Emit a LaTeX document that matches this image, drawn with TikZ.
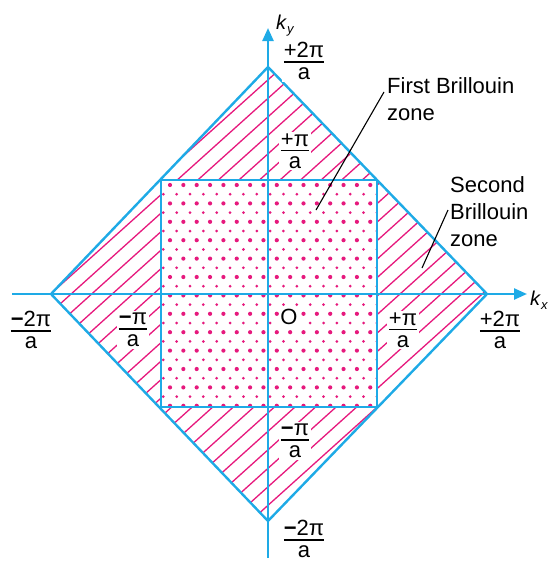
\documentclass[tikz,border=0pt]{standalone}
\usepackage{fontspec}
\setmainfont{Liberation Sans}
\usetikzlibrary{arrows.meta}
\definecolor{zblue}{RGB}{30,170,230}
\definecolor{zpink}{RGB}{230,25,125}
\newcommand\fr[2]{\vbox{\offinterlineskip\halign{\hfil##\hfil\cr #1\cr\noalign{\kern3pt\hrule height1.8pt\kern5pt}#2\cr}}}
\newcommand\mn{\textbf{−}}
\begin{document}
\begin{tikzpicture}[x=1pt,y=-1pt,font=\fontsize{22}{27}\selectfont,
  zline/.style={draw=zblue,line width=2.4pt},
  hatchline/.style={draw=zpink,line width=1.3pt},
  lbl/.style={inner sep=2pt,fill=white},
  txt/.style={inner sep=0pt,align=left},
  leader/.style={draw=black,line width=1.1pt},
  axis/.style={draw=zblue,line width=2.4pt,-{Triangle[length=13pt,width=11pt]}}]
\useasboundingbox (0,0) rectangle (548,562);
% key points
\coordinate (T) at (268,67);
\coordinate (R) at (487,294);
\coordinate (B) at (268,521);
\coordinate (L) at (51,294);
\coordinate (s1) at (161,180);
\coordinate (s2) at (377,407);
% hatching
\begin{scope}
  \clip (T) -- (R) -- (B) -- (L) -- cycle;
  \foreach \c in {99,117.5,...,970}
    \draw[hatchline] (40,{\c-36}) -- (500,{\c-450});
\end{scope}
\fill[white] (s1) rectangle (s2);
% dots
\begin{scope}
  \clip (s1) rectangle (s2);
  \foreach \r in {0,...,12}
    \foreach \j in {-1,...,17}
      \fill[zpink] ({170+13.35*\j},{185+18.4*\r}) circle (2.1);
  \foreach \r in {0,...,12}
    \foreach \j in {-1,...,17}
      \fill[zpink] ({163.3+13.35*\j},{194.2+18.4*\r}) circle (1.5);
\end{scope}
% outlines
\draw[zline,line join=round] (T) -- (R) -- (B) -- (L) -- cycle;
\draw[zline] (s1) rectangle (s2);
% axes
\coordinate (xs) at (12,294);
\coordinate (xe) at (527,294);
\coordinate (ys) at (268,558);
\coordinate (ye) at (268,28);
\draw[axis] (xs) -- (xe);
\draw[axis] (ys) -- (ye);
% labels
\node[inner sep=0pt,anchor=base west,font=\fontsize{20}{22}\selectfont] (ky) at (276,29) {\textit{k}\raisebox{-4pt}{\fontsize{13}{15}\selectfont\textit{y}}};
\node[inner sep=0pt,anchor=base west,font=\fontsize{20}{22}\selectfont] (kx) at (530,305) {\textit{k}\raisebox{-4pt}{\fontsize{13}{15}\selectfont\textit{x}}};
\node[lbl] (t2) at (304,61) {\fr{+2π}{a}};
\node[lbl] (t1) at (295,151) {\fr{+π}{a}};
\node[lbl] (l2) at (31,330) {\fr{\mn2π}{a}};
\node[lbl] (l1) at (133,330) {\fr{\mn π}{a}};
\node[lbl,inner sep=1pt] (o) at (289,317) {O};
\node[lbl] (r1) at (403,330) {\fr{+π}{a}};
\node[lbl] (r2) at (500,330) {\fr{+2π}{a}};
\node[lbl] (b1) at (295,441) {\fr{\mn π}{a}};
\node[lbl,inner sep=1pt] (b2) at (304,539) {\fr{\mn2π}{a}};
\node[txt,anchor=north west] (fbz) at (387,77) {First Brillouin\\zone};
\node[txt,anchor=north west] (sbz) at (450,176) {Second\\Brillouin\\zone};
% leaders
\coordinate (f1) at (384,92);
\coordinate (f2) at (316,210);
\coordinate (g1) at (448,210);
\coordinate (g2) at (422,268);
\draw[leader] (f1) -- (f2);
\draw[leader] (g1) -- (g2);
\end{tikzpicture}
\end{document}
